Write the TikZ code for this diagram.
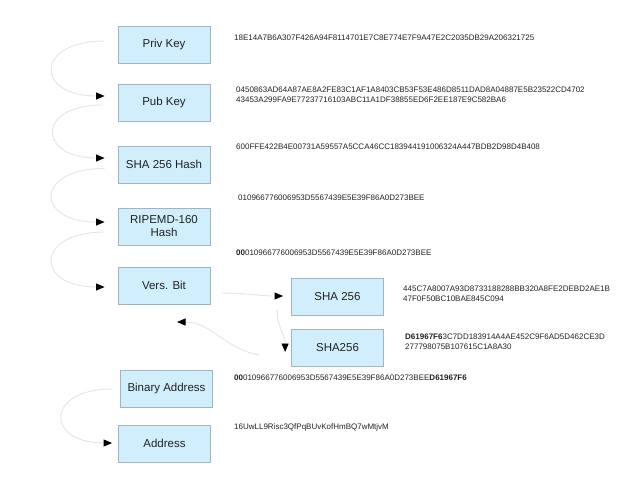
\documentclass[tikz,border=0pt]{standalone}
\usepackage{fontspec}
\setmainfont{Liberation Sans}
\usetikzlibrary{arrows.meta}
\definecolor{boxfill}{RGB}{208,238,251}
\definecolor{boxline}{RGB}{160,180,196}
\definecolor{flowline}{RGB}{228,228,228}
\definecolor{inktext}{RGB}{34,34,34}
\begin{document}
\begin{tikzpicture}[
  x=1pt, y=-1pt,
  step box/.style={draw=boxline, fill=boxfill, line width=0.8pt,
                   minimum width=92pt, minimum height=37pt, inner sep=2pt,
                   align=center, text=inktext,
                   font=\fontsize{11.5}{13}\selectfont},
  hexval/.style={anchor=west, align=left, inner sep=0pt, text=inktext,
                 font=\fontsize{8}{9.5}\selectfont},
  flow/.style={draw=flowline, line width=0.9pt,
               -{Triangle[length=8.5pt,width=7pt,color=black]}},
]
\useasboundingbox (0,0) rectangle (640,480);

% ── Key derivation steps ─────────────────────────────────────────────────────
\node[step box] (priv)   at (164,45)    {Priv Key};
\node[step box] (pub)    at (164,102.5) {Pub Key};
\node[step box] (sha)    at (164,164.5) {SHA 256 Hash};
\node[step box] (ripemd) at (164,226.5) {RIPEMD-160\\Hash};
\node[step box] (vers)   at (164,285.5) {Vers. Bit};

% ── Checksum steps ───────────────────────────────────────────────────────────
\node[step box] (shaA) at (337.5,297)   {SHA 256};
\node[step box] (shaB) at (337.5,347.5) {SHA256};

% ── Result ───────────────────────────────────────────────────────────────────
\node[step box] (binaddr) at (166.5,389)   {Binary Address};
\node[step box] (addr)    at (164.5,443.5) {Address};

% ── Values ───────────────────────────────────────────────────────────────────
\node[hexval] (privhex) at (234,38)
  {18E14A7B6A307F426A94F8114701E7C8E774E7F9A47E2C2035DB29A206321725};
\node[hexval] (pubhex) at (236,94.5)
  {0450863AD64A87AE8A2FE83C1AF1A8403CB53F53E486D8511DAD8A04887E5B23522CD4702\\
   43453A299FA9E77237716103ABC11A1DF38855ED6F2EE187E9C582BA6};
\node[hexval] (shahex) at (236,147)
  {600FFE422B4E00731A59557A5CCA46CC183944191006324A447BDB2D98D4B408};
\node[hexval] (ripehex) at (238,198)
  {010966776006953D5567439E5E39F86A0D273BEE};
\node[hexval] (vershex) at (236,253)
  {\textbf{00}010966776006953D5567439E5E39F86A0D273BEE};
\node[hexval] (shaAhex) at (403,293.5)
  {445C7A8007A93D8733188288BB320A8FE2DEBD2AE1B\\
   47F0F50BC10BAE845C094};
\node[hexval] (shaBhex) at (405,341.5)
  {\textbf{D61967F6}3C7DD183914A4AE452C9F6AD5D462CE3D\\
   277798075B107615C1A8A30};
\node[hexval] (binhex) at (234,378)
  {\textbf{00}010966776006953D5567439E5E39F86A0D273BEE\textbf{D61967F6}};
\node[hexval] (addrtxt) at (234,427)
  {16UwLL9Risc3QfPqBUvKofHmBQ7wMtjvM};

% ── Flow connectors ──────────────────────────────────────────────────────────
\draw[flow] ([xshift=-13pt,yshift=4pt]priv.west)
  to[out=180,in=180,distance=70pt] ([xshift=-13pt,yshift=6.5pt]pub.west);
\draw[flow] ([xshift=-15pt,yshift=-2.5pt]pub.west)
  to[out=180,in=180,distance=67pt] ([xshift=-13pt,yshift=6.5pt]sha.west);
\draw[flow] ([xshift=-13pt,yshift=-4pt]sha.west)
  to[out=180,in=180,distance=70pt] ([xshift=-13pt,yshift=4.5pt]ripemd.west);
\draw[flow] ([xshift=-13pt,yshift=-5.5pt]ripemd.west)
  to[out=180,in=180,distance=70pt] ([xshift=-13pt,yshift=-1.5pt]vers.west);
\draw[flow] ([xshift=12pt,yshift=-7.5pt]vers.east)
  to[out=0,in=180] ([xshift=-8pt,yshift=1pt]shaA.west);
\draw[flow] ([xshift=-14pt,yshift=-13pt]shaA.west)
  to[out=-90,in=90] ([xshift=-6pt,yshift=-4.5pt]shaB.west);
\coordinate (loopback) at (177,322);
\draw[flow] ([xshift=-32pt,yshift=-7.5pt]shaB.west)
  to[out=170,in=0] (loopback);
\draw[flow] ([xshift=-8pt]binaddr.west)
  to[out=180,in=180,distance=67pt] ([xshift=-6pt,yshift=0.5pt]addr.west);

\end{tikzpicture}
\end{document}
